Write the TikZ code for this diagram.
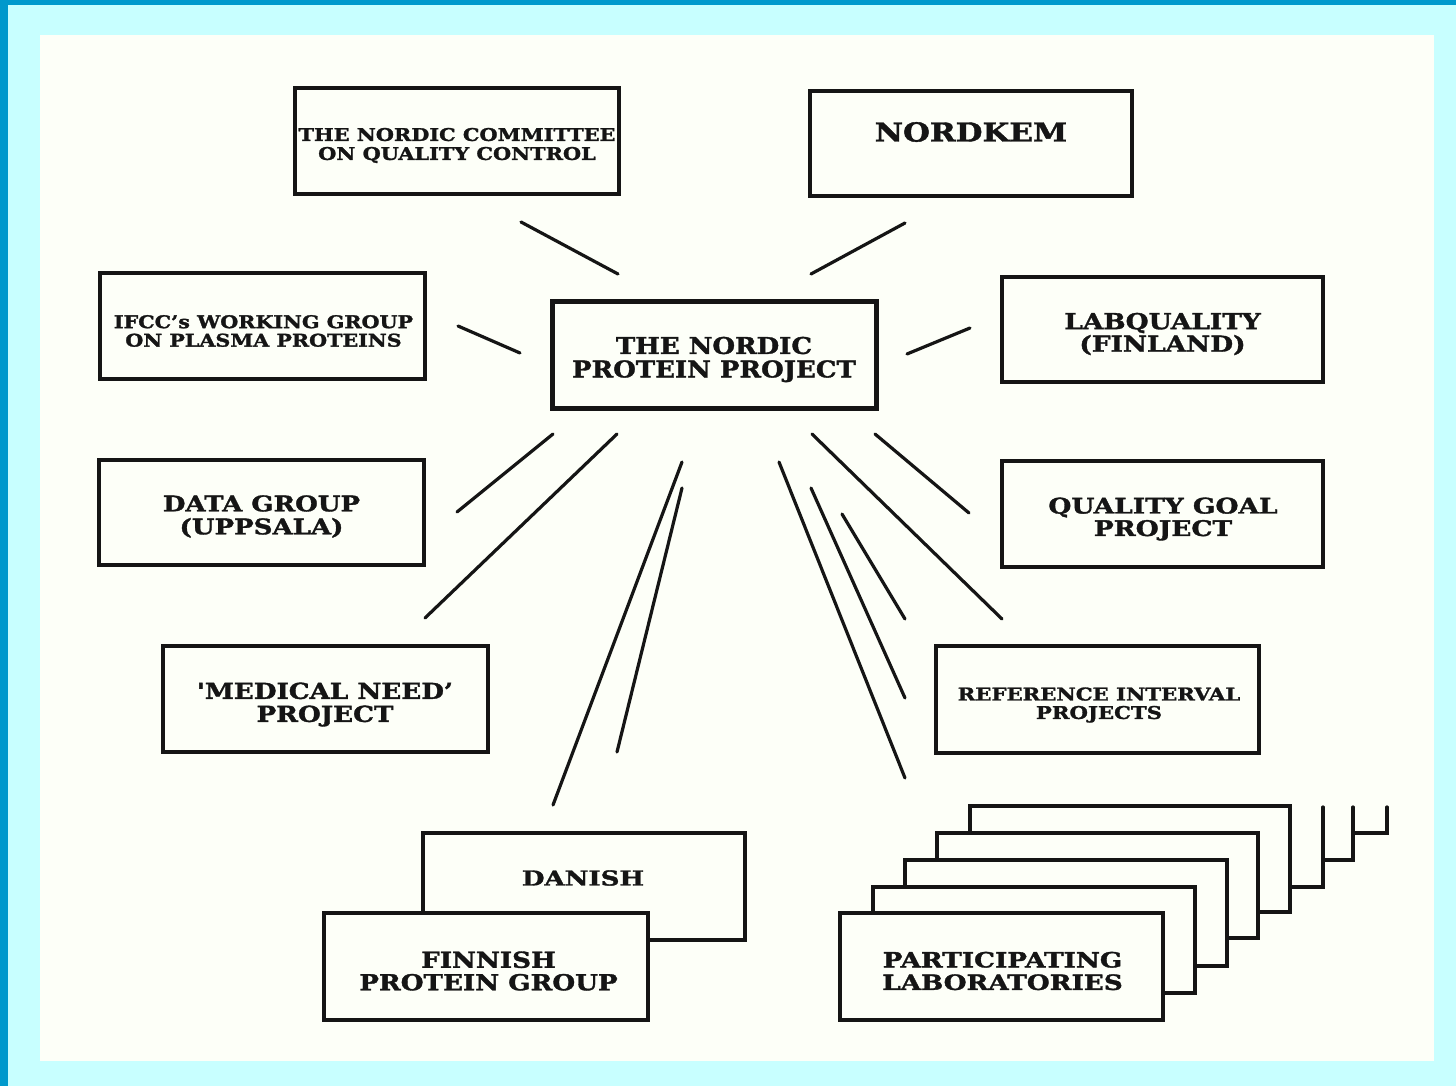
\documentclass[tikz,border=0pt]{standalone}
\usepackage{fontspec}
\newfontfamily\boxfont[BoldFeatures={FakeBold=1.6}]{DejaVu Serif}
\newcommand\myfnt[3]{\boxfont\bfseries\fontsize{#1}{#2}\selectfont\addfontfeature{FakeStretch=#3}}
\definecolor{frameblue}{HTML}{0099CC}
\definecolor{framecyan}{HTML}{C8FFFF}
\definecolor{paper}{HTML}{FDFFF8}
\definecolor{ink}{HTML}{151515}
\begin{document}
\begin{tikzpicture}[x=1pt,y=-1pt,
  box/.style={draw=ink, line width=3.2pt, fill=paper, inner sep=0pt},
  txt/.style={align=center, inner sep=0pt, text=ink},
  conn/.style={draw=ink, line width=3.2pt, line cap=round},
  stackbox/.style={draw=ink, line width=3.2pt, fill=paper}]
\useasboundingbox (0,0) rectangle (1456,1086);
\fill[framecyan] (0,0) rectangle (1456,1086);
\fill[frameblue] (0,0) rectangle (1456,5);
\fill[frameblue] (0,0) rectangle (8,1086);
\fill[paper] (40,35) rectangle (1434,1061);

% boxes
\node[box, minimum width=324pt, minimum height=106pt] (ncqc) at (457,141) {};
\node[box, minimum width=322pt, minimum height=105pt] (nordkem) at (971,143.5) {};
\node[box, minimum width=325pt, minimum height=106pt] (ifcc) at (262.5,326) {};
\node[box, line width=5pt, minimum width=324pt, minimum height=107pt] (npp) at (714,354.5) {};
\node[box, minimum width=321pt, minimum height=105pt] (labq) at (1162.5,329.5) {};
\node[box, minimum width=325pt, minimum height=105pt] (data) at (261.5,512.5) {};
\node[box, minimum width=321pt, minimum height=106pt] (qgoal) at (1162.5,514) {};
\node[box, minimum width=325pt, minimum height=106pt] (med) at (325.5,699) {};
\node[box, minimum width=323pt, minimum height=107pt] (ref) at (1097.5,699.5) {};
\node[box, minimum width=322pt, minimum height=107pt] (danish) at (584,886.5) {};
\node[box, minimum width=324pt, minimum height=107pt] (finnish) at (486,966.5) {};

% participating laboratories stack
\draw[stackbox, line cap=round] (1387,807) -- (1387,833) -- (1353,833);
\draw[stackbox, line cap=round] (1353,807) -- (1353,860) -- (1323,860);
\draw[stackbox, line cap=round] (1323,807) -- (1323,887) -- (1290,887);
\draw[stackbox] (970,806) rectangle (1290,912);
\draw[stackbox] (937,833) rectangle (1258,938);
\draw[stackbox] (905,860) rectangle (1227,966);
\draw[stackbox] (873,887) rectangle (1195,993);
\node[box, minimum width=323pt, minimum height=107pt] (labs) at (1001.5,966.5) {};

% texts
\node[txt, font=\myfnt{17.5}{19}{1.19}] (ncqc-t) at (457,145.5) {THE NORDIC COMMITTEE\\ON QUALITY CONTROL};
\node[txt, font=\myfnt{26}{27}{1.19}] (nordkem-t) at (971,132) {NORDKEM};
\node[txt, font=\myfnt{17.5}{18.5}{1.18}] (ifcc-t) at (263.5,331) {IFCC’s WORKING GROUP\\ON PLASMA PROTEINS};
\node[txt, font=\myfnt{23}{23.5}{1.13}] (npp-t) at (714,359.5) {THE NORDIC\\PROTEIN PROJECT};
\node[txt, font=\myfnt{22}{22.5}{1.20}] (labq-t) at (1162.5,334) {LABQUALITY\\(FINLAND)};
\node[txt, font=\myfnt{21.5}{23}{1.21}] (data-t) at (261.5,516.5) {DATA GROUP\\(UPPSALA)};
\node[txt, font=\myfnt{21.5}{22.5}{1.23}] (qgoal-t) at (1163,519) {QUALITY GOAL\\PROJECT};
\node[txt, font=\myfnt{22}{23}{1.19}] (med-t) at (325,704.5) {'MEDICAL NEED’\\PROJECT};
\node[txt, font=\myfnt{17.5}{18.5}{1.21}] (ref-t) at (1099,705) {REFERENCE INTERVAL\\PROJECTS};
\node[txt, font=\myfnt{20.5}{21}{1.27}] (danish-t) at (583,878) {DANISH};
\node[txt, font=\myfnt{22}{22.5}{1.19}] (finnish-t) at (488.5,971) {FINNISH\\PROTEIN GROUP};
\node[txt, font=\myfnt{21}{22.5}{1.25}] (labs-t) at (1002.5,971) {PARTICIPATING\\LABORATORIES};

% connector end points
\coordinate (c1a) at (521,222); \coordinate (c1b) at (618,274);
\coordinate (c2a) at (905,223); \coordinate (c2b) at (811,274);
\coordinate (c3a) at (458,326); \coordinate (c3b) at (520,353);
\coordinate (c4a) at (970,328); \coordinate (c4b) at (907,354);
\coordinate (c5a) at (457,512); \coordinate (c5b) at (553,434);
\coordinate (c6a) at (425,618); \coordinate (c6b) at (617,434);
\coordinate (c7a) at (553,805); \coordinate (c7b) at (682,462);
\coordinate (c8a) at (617,752); \coordinate (c8b) at (682,488);
\coordinate (c9a) at (969,513); \coordinate (c9b) at (875,434);
\coordinate (c10a) at (1002,619); \coordinate (c10b) at (812,434);
\coordinate (c11a) at (905,778); \coordinate (c11b) at (779,462);
\coordinate (c12a) at (905,698); \coordinate (c12b) at (811,488);
\coordinate (c13a) at (905,619); \coordinate (c13b) at (842,514);

\foreach \i in {1,...,13} { \draw[conn] (c\i a) -- (c\i b); }
\end{tikzpicture}
\end{document}
